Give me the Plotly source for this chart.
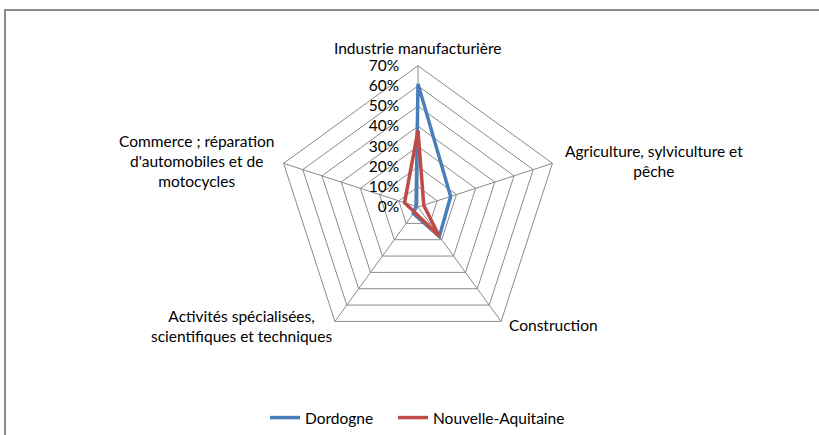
import plotly.graph_objects as go

categories = ["Industrie manufacturière", "Agriculture, sylviculture et pêche",
              "Construction", "Activités spécialisées, scientifiques et techniques",
              "Commerce ; réparation d'automobiles et de motocycles"]
dordogne = [61, 17, 18, 4, 1]
nouvelle_aquitaine = [38, 3, 18, 3, 7]
tick_vals = [0, 10, 20, 30, 40, 50, 60, 70]
tick_text = ["0%", "10%", "20%", "30%", "40%", "50%", "60%", "70%"]

W, H = 819, 435
cx, cy, R = 418, 208, 142

FONT = "Lato"
FS = 15.5

fig = go.Figure()
for name, vals, col, leg in [("Dordogne", dordogne, "#4A7EBB", "legend"),
                             ("Nouvelle-Aquitaine", nouvelle_aquitaine, "#BE4B48", "legend2")]:
    fig.add_trace(go.Scatterpolar(
        r=vals + vals[:1], theta=categories + categories[:1],
        mode="lines", name=name, legend=leg, line=dict(color=col, width=3.5)))

grid = "#8a8a8a"
leg_common = dict(orientation="h", xanchor="left", y=(H - 420) / H, yanchor="middle",
                  font=dict(family=FONT, size=15.5), bgcolor="rgba(0,0,0,0)")
fig.update_layout(
    width=W, height=H, margin=dict(l=0, r=0, t=0, b=0),
    paper_bgcolor="white", plot_bgcolor="white",
    font=dict(family=FONT, size=FS, color="#000000"),
    polar=dict(
        domain=dict(x=[(cx - R) / W, (cx + R) / W], y=[(H - cy - R) / H, (H - cy + R) / H]),
        gridshape="linear", bgcolor="white",
        angularaxis=dict(direction="clockwise", rotation=90, showticklabels=False,
                         ticks="", linecolor=grid, linewidth=1, gridcolor=grid, gridwidth=1,
                         categoryorder="array", categoryarray=categories),
        radialaxis=dict(range=[0, 70], tickvals=tick_vals, ticktext=tick_text, angle=90,
                        tickangle=90, side="counterclockwise", showline=False,
                        ticks="outside", ticklen=13, tickcolor="rgba(0,0,0,0)",
                        gridcolor=grid, gridwidth=1,
                        tickfont=dict(family=FONT, size=FS, color="#000000")),
    ),
    legend=dict(x=265 / W, **leg_common),
    legend2=dict(x=393 / W, **leg_common),
    showlegend=True,
)

labels = [
    ("Industrie manufacturière", 418, 48),
    ("Agriculture, sylviculture et<br>pêche", 654, 162),
    ("Construction", 553, 327),
    ("Activités spécialisées,<br>scientifiques et techniques", 241, 328),
    ("Commerce ; réparation<br>d'automobiles et de<br>motocycles", 196, 162),
]
for txt, x, y in labels:
    fig.add_annotation(text=txt, x=x / W, y=1 - y / H, xref="paper", yref="paper",
                       showarrow=False, align="center", xanchor="center", yanchor="middle",
                       font=dict(family=FONT, size=FS, color="#000000"))

fig.add_shape(type="rect", xref="paper", yref="paper",
              x0=5 / W, y0=-0.1, x1=1.1, y1=1 - 10 / H,
              line=dict(color="#8c8c8c", width=2), fillcolor="rgba(0,0,0,0)")

fig.write_html("out.html", config={"displayModeBar": False},
               post_script="document.body.style.margin='0';")
